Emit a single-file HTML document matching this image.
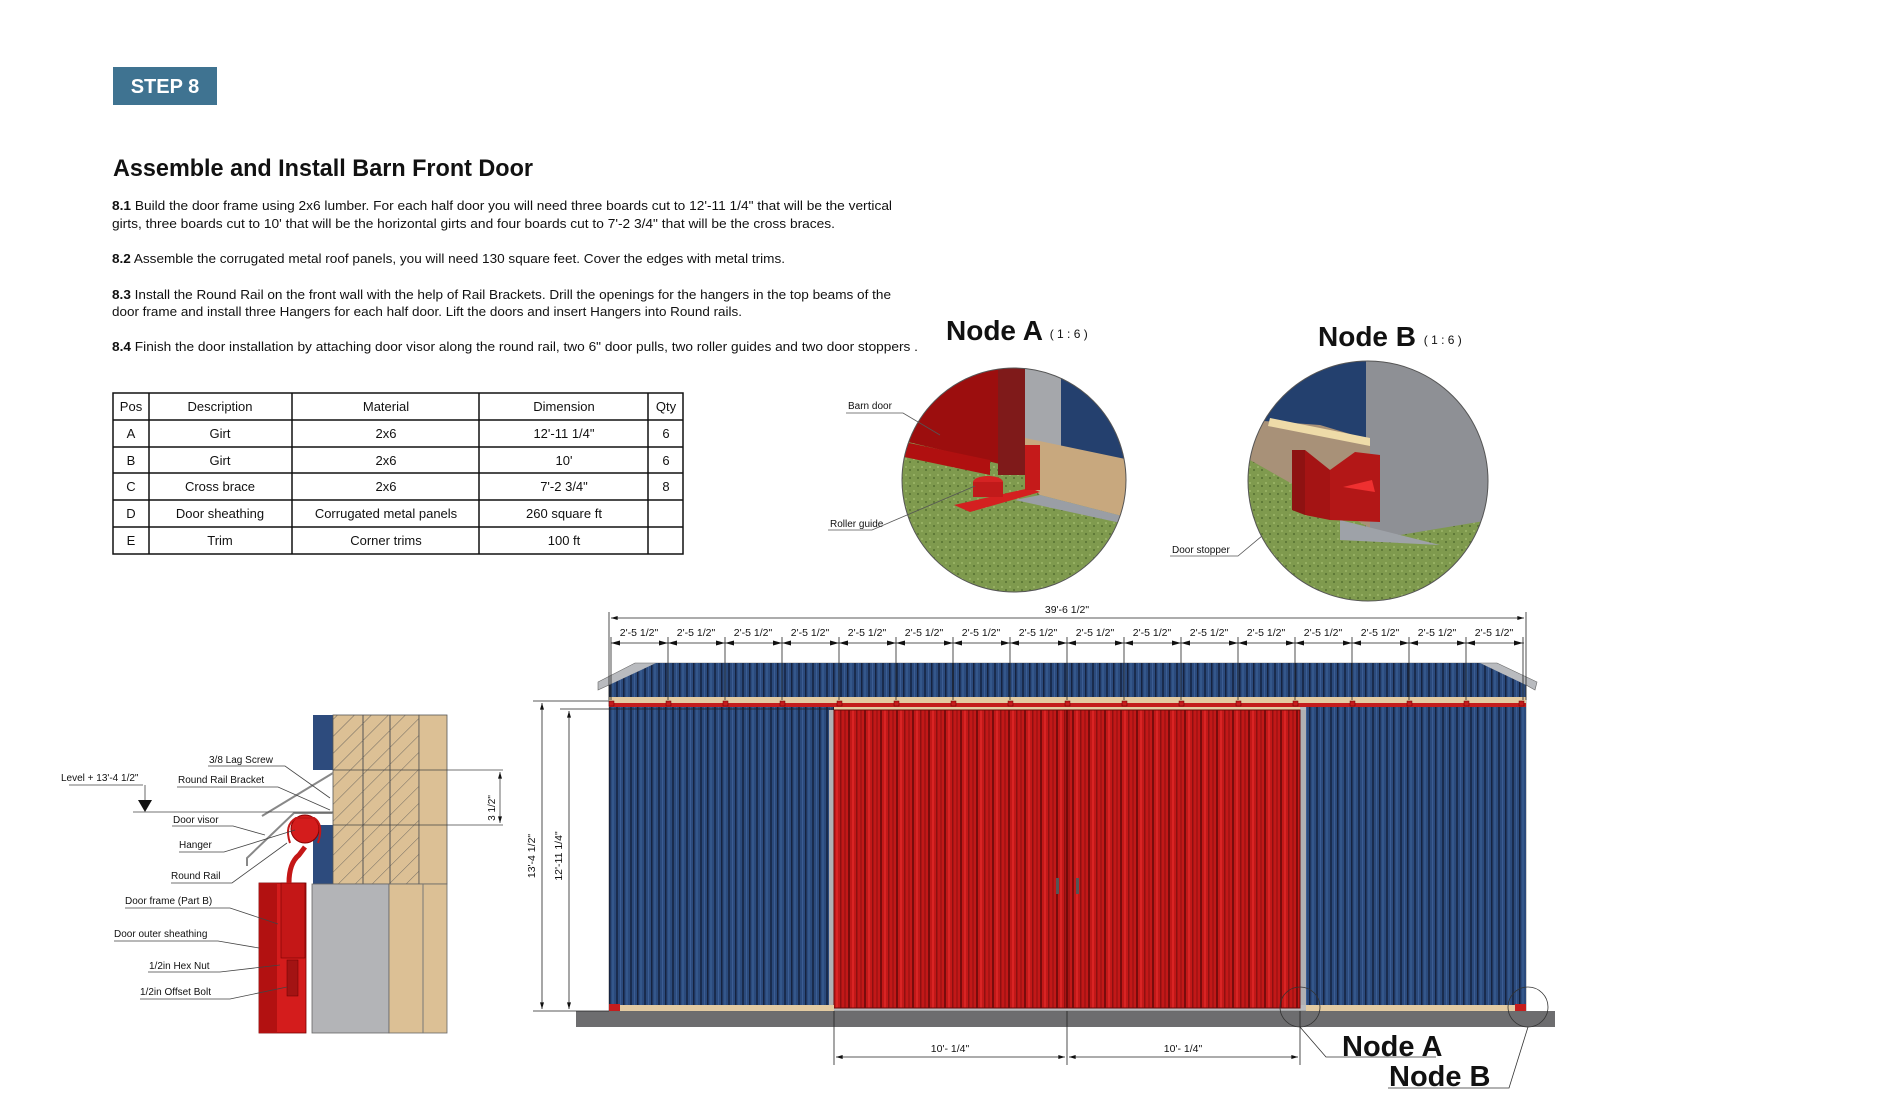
<!DOCTYPE html>
<html><head><meta charset="utf-8"><style>
html,body{margin:0;padding:0;background:#fff;}
svg{display:block;}
.b{font-family:"Liberation Sans",sans-serif;}
</style></head><body>
<svg width="1900" height="1118" viewBox="0 0 1900 1118" xmlns="http://www.w3.org/2000/svg" font-family="Liberation Sans, sans-serif">
<defs>
<pattern id="blue" width="14" height="10" patternUnits="userSpaceOnUse">
<rect width="14" height="10" fill="#2b4a7c"/>
<rect x="0" width="2" height="10" fill="#1a2c4e"/><rect x="4" width="1" height="10" fill="#3b5d94"/>
<rect x="7" width="1.5" height="10" fill="#16233f"/><rect x="10" width="2" height="10" fill="#34578b"/>
</pattern>
<pattern id="red" width="16" height="10" patternUnits="userSpaceOnUse">
<rect width="16" height="10" fill="#c21818"/>
<rect x="0" width="2" height="10" fill="#7a0c0c"/><rect x="4" width="2" height="10" fill="#d92424"/>
<rect x="8" width="1.5" height="10" fill="#8e1010"/><rect x="12" width="2" height="10" fill="#a81414"/>
</pattern>
<pattern id="hatch" width="12" height="12" patternUnits="userSpaceOnUse" patternTransform="rotate(45)">
<rect width="12" height="12" fill="#dcc095"/><line x1="0" y1="0" x2="0" y2="12" stroke="#555" stroke-width="0.8"/>
</pattern>
<pattern id="grass" width="8" height="8" patternUnits="userSpaceOnUse">
<rect width="8" height="8" fill="#7f9a4e"/><rect x="1" y="2" width="2" height="2" fill="#96b063"/><rect x="5" y="5" width="2" height="2" fill="#5f7a38"/>
</pattern>
<clipPath id="ca"><circle cx="1014" cy="480" r="112"/></clipPath>
<clipPath id="cb"><circle cx="1368" cy="481" r="120"/></clipPath>
<marker id="ar" viewBox="0 0 10 6" refX="10" refY="3" markerWidth="9" markerHeight="5" orient="auto-start-reverse"><path d="M0,0L10,3L0,6z" fill="#111"/></marker>
</defs>

<!-- header -->
<rect x="113" y="67" width="104" height="38" fill="#3f7391"/>
<text x="165" y="93" fill="#fff" font-size="20" font-weight="bold" text-anchor="middle">STEP 8</text>
<text x="113" y="176" font-size="24" font-weight="bold" fill="#111" textLength="420" lengthAdjust="spacingAndGlyphs">Assemble and Install Barn Front Door</text>
<g font-size="13" fill="#111">
<text x="112" y="210" textLength="780" lengthAdjust="spacingAndGlyphs"><tspan font-weight="bold">8.1</tspan> Build the door frame using 2x6 lumber. For each half door you will need three boards cut to 12'-11 1/4" that will be the vertical</text>
<text x="112" y="228" textLength="723" lengthAdjust="spacingAndGlyphs">girts, three boards cut to 10' that will be the horizontal girts and four boards cut to 7'-2 3/4" that will be the cross braces.</text>
<text x="112" y="263" textLength="673" lengthAdjust="spacingAndGlyphs"><tspan font-weight="bold">8.2</tspan> Assemble the corrugated metal roof panels, you will need 130 square feet. Cover the edges with metal trims.</text>
<text x="112" y="299" textLength="779" lengthAdjust="spacingAndGlyphs"><tspan font-weight="bold">8.3</tspan> Install the Round Rail on the front wall with the help of Rail Brackets. Drill the openings for the hangers in the top beams of the</text>
<text x="112" y="316" textLength="630" lengthAdjust="spacingAndGlyphs">door frame and install three Hangers for each half door. Lift the doors and insert Hangers into Round rails.</text>
<text x="112" y="351" textLength="806" lengthAdjust="spacingAndGlyphs"><tspan font-weight="bold">8.4</tspan> Finish the door installation by attaching door visor along the round rail, two 6" door pulls, two roller guides and two door stoppers .</text>
</g>

<!-- table -->
<g stroke="#111" stroke-width="1.5" fill="none">
<rect x="113" y="393" width="570" height="161"/>
<line x1="113" y1="420" x2="683" y2="420"/><line x1="113" y1="447" x2="683" y2="447"/>
<line x1="113" y1="473" x2="683" y2="473"/><line x1="113" y1="500" x2="683" y2="500"/>
<line x1="113" y1="527" x2="683" y2="527"/>
<line x1="149" y1="393" x2="149" y2="554"/><line x1="292" y1="393" x2="292" y2="554"/>
<line x1="479" y1="393" x2="479" y2="554"/><line x1="648" y1="393" x2="648" y2="554"/>
</g>
<g font-size="13" fill="#111" text-anchor="middle">
<text x="131" y="411">Pos</text><text x="220" y="411">Description</text><text x="386" y="411">Material</text><text x="564" y="411">Dimension</text><text x="666" y="411">Qty</text>
<text x="131" y="438">A</text><text x="220" y="438">Girt</text><text x="386" y="438">2x6</text><text x="564" y="438">12'-11 1/4"</text><text x="666" y="438">6</text>
<text x="131" y="465">B</text><text x="220" y="465">Girt</text><text x="386" y="465">2x6</text><text x="564" y="465">10'</text><text x="666" y="465">6</text>
<text x="131" y="491">C</text><text x="220" y="491">Cross brace</text><text x="386" y="491">2x6</text><text x="564" y="491">7'-2 3/4"</text><text x="666" y="491">8</text>
<text x="131" y="518">D</text><text x="220" y="518">Door sheathing</text><text x="386" y="518">Corrugated metal panels</text><text x="564" y="518">260 square ft</text>
<text x="131" y="545">E</text><text x="220" y="545">Trim</text><text x="386" y="545">Corner trims</text><text x="564" y="545">100 ft</text>
</g>

<!-- Node A -->
<text x="946" y="340" font-size="28" font-weight="bold" fill="#111">Node A <tspan font-size="12" font-weight="normal" dy="-2">( 1 : 6 )</tspan></text>
<g clip-path="url(#ca)">
<rect x="900" y="360" width="240" height="240" fill="url(#grass)"/>
<polygon points="1025,368 1130,368 1130,470 1025,440" fill="#24406e"/>
<rect x="1025" y="360" width="36" height="86" fill="#a5a7ab"/>
<polygon points="1025,438 1130,460 1130,518 1040,495 1025,480" fill="#c8a87e"/>
<polygon points="1040,495 1130,518 1130,525 1015,500" fill="#9a9ea5"/>
<polygon points="895,360 1025,360 1025,470 900,440" fill="#9c0e0e"/>
<rect x="998" y="360" width="27" height="115" fill="#7f1a1a"/>
<polygon points="895,440 990,460 990,475 895,455" fill="#b01010"/>
<polygon points="954,505 1030,488 1040,492 970,512" fill="#d42020"/>
<rect x="1025" y="445" width="15" height="45" fill="#c51a1a"/>
<ellipse cx="988" cy="482" rx="15" ry="6" fill="#d52323"/><rect x="973" y="482" width="30" height="15" fill="#c11a1a"/>
</g>
<circle cx="1014" cy="480" r="112" fill="none" stroke="#555" stroke-width="1"/>
<g font-size="10" fill="#111"><text x="848" y="409">Barn door</text><text x="830" y="527">Roller guide</text><text x="1172" y="553">Door stopper</text></g>
<g stroke="#555" stroke-width="0.8" fill="none">
<polyline points="846,413 903,413 940,435"/><polyline points="828,530 872,530 975,486"/><polyline points="1170,556 1238,556 1305,500"/>
</g>

<!-- Node B -->
<text x="1318" y="346" font-size="28" font-weight="bold" fill="#111">Node B <tspan font-size="12" font-weight="normal" dy="-2">( 1 : 6 )</tspan></text>
<g clip-path="url(#cb)">
<rect x="1240" y="360" width="260" height="250" fill="url(#grass)"/>
<rect x="1240" y="360" width="130" height="85" fill="#23406e"/>
<polygon points="1366,360 1490,360 1490,520 1400,535 1366,530" fill="#8e9095"/>
<polygon points="1250,420 1320,425 1370,440 1370,528 1250,460" fill="#a89178"/>
<polygon points="1270,418 1370,438 1370,446 1268,426" fill="#eedba8"/>
<polygon points="1340,520 1400,535 1440,545 1340,540" fill="#9ea2a8"/>
<polygon points="1292,450 1305,450 1305,515 1292,510" fill="#8e1212"/>
<polygon points="1305,450 1330,470 1330,520 1305,515" fill="#a41414"/>
<polygon points="1330,470 1355,452 1380,455 1380,522 1330,520" fill="#b31717"/>
<polygon points="1343,487 1372,480 1375,492" fill="#ef3030"/>
</g>
<circle cx="1368" cy="481" r="120" fill="none" stroke="#555" stroke-width="1"/>

<!-- Elevation -->
<rect x="576" y="1011" width="979" height="16" fill="#6d6d6f"/>
<polygon points="598,682 635,663 1497,663 1537,682 1535,690 1526,685 1526,1011 609,1011 609,685 598,690" fill="#b9bbbf" stroke="#666" stroke-width="0.6"/>
<polygon points="609,685 656,663 1480,663 1526,685 1526,697 609,697" fill="url(#blue)"/>
<rect x="609" y="697" width="917" height="6" fill="#e3cba2"/>
<rect x="609" y="703" width="917" height="4" fill="#c41d1d"/>
<rect x="834" y="707" width="466" height="3" fill="#e3cba2"/>
<rect x="609" y="707" width="225" height="298" fill="url(#blue)"/>
<rect x="1306" y="707" width="220" height="298" fill="url(#blue)"/>
<rect x="829" y="710" width="5" height="295" fill="#b0b0b3"/>
<rect x="1300" y="710" width="6" height="295" fill="#b0b0b3"/>
<rect x="834" y="710" width="466" height="298" fill="url(#red)" stroke="#6a0808" stroke-width="1"/>
<line x1="1067" y1="710" x2="1067" y2="1008" stroke="#5a0505" stroke-width="1.5"/>
<rect x="1056" y="878" width="3" height="16" fill="#555"/><rect x="1076" y="878" width="3" height="16" fill="#555"/>
<rect x="609" y="1005" width="225" height="6" fill="#e3cba2"/><rect x="1306" y="1005" width="220" height="6" fill="#e3cba2"/>
<rect x="609" y="1004" width="11" height="7" fill="#c41d1d"/><rect x="1515" y="1004" width="11" height="7" fill="#c41d1d"/>
<g fill="#c41d1d" stroke="#600" stroke-width="0.5">
<rect x="609" y="701" width="5" height="5"/><rect x="666" y="701" width="5" height="5"/><rect x="723" y="701" width="5" height="5"/><rect x="780" y="701" width="5" height="5"/><rect x="837" y="701" width="5" height="5"/><rect x="894" y="701" width="5" height="5"/><rect x="951" y="701" width="5" height="5"/><rect x="1008" y="701" width="5" height="5"/><rect x="1065" y="701" width="5" height="5"/><rect x="1122" y="701" width="5" height="5"/><rect x="1179" y="701" width="5" height="5"/><rect x="1236" y="701" width="5" height="5"/><rect x="1293" y="701" width="5" height="5"/><rect x="1350" y="701" width="5" height="5"/><rect x="1407" y="701" width="5" height="5"/><rect x="1464" y="701" width="5" height="5"/><rect x="1519" y="701" width="5" height="5"/>
</g>
<circle cx="1300" cy="1007" r="20" fill="none" stroke="#333" stroke-width="0.8"/>
<circle cx="1528" cy="1007" r="20" fill="none" stroke="#333" stroke-width="0.8"/>
<polyline points="1300,1027 1326,1057 1436,1057" fill="none" stroke="#333" stroke-width="0.8"/>
<polyline points="1528,1027 1509,1088 1388,1088" fill="none" stroke="#333" stroke-width="0.8"/>
<text x="1342" y="1056" font-size="29" font-weight="bold" fill="#111">Node A</text>
<text x="1389" y="1086" font-size="29" font-weight="bold" fill="#111">Node B</text>

<!-- dims -->
<g stroke="#222" stroke-width="0.8" fill="none">
<line x1="609" y1="612" x2="609" y2="700"/><line x1="1526" y1="612" x2="1526" y2="700"/>
<line x1="611" y1="618" x2="1524" y2="618" marker-start="url(#ar)" marker-end="url(#ar)"/>
<line x1="611" y1="643" x2="1524" y2="643"/>
<line x1="834" y1="1011" x2="834" y2="1065"/><line x1="1067" y1="1011" x2="1067" y2="1065"/><line x1="1300" y1="1011" x2="1300" y2="1065"/>
<line x1="836" y1="1057" x2="1065" y2="1057" marker-start="url(#ar)" marker-end="url(#ar)"/>
<line x1="1069" y1="1057" x2="1298" y2="1057" marker-start="url(#ar)" marker-end="url(#ar)"/>
<line x1="533" y1="701" x2="609" y2="701"/><line x1="560" y1="709" x2="834" y2="709"/><line x1="533" y1="1011" x2="609" y2="1011"/>
<line x1="542" y1="703" x2="542" y2="1009" marker-start="url(#ar)" marker-end="url(#ar)"/>
<line x1="569" y1="711" x2="569" y2="1009" marker-start="url(#ar)" marker-end="url(#ar)"/>
</g>
<g id="ticks" stroke="#222" stroke-width="0.8">
<line x1="611" y1="637" x2="611" y2="700"/><line x1="668" y1="637" x2="668" y2="700"/><line x1="725" y1="637" x2="725" y2="700"/><line x1="782" y1="637" x2="782" y2="700"/><line x1="839" y1="637" x2="839" y2="700"/><line x1="896" y1="637" x2="896" y2="700"/><line x1="953" y1="637" x2="953" y2="700"/><line x1="1010" y1="637" x2="1010" y2="700"/><line x1="1067" y1="637" x2="1067" y2="700"/><line x1="1124" y1="637" x2="1124" y2="700"/><line x1="1181" y1="637" x2="1181" y2="700"/><line x1="1238" y1="637" x2="1238" y2="700"/><line x1="1295" y1="637" x2="1295" y2="700"/><line x1="1352" y1="637" x2="1352" y2="700"/><line x1="1409" y1="637" x2="1409" y2="700"/><line x1="1466" y1="637" x2="1466" y2="700"/><line x1="1523" y1="637" x2="1523" y2="700"/>
</g>
<g fill="#111">
<path d="M611,643l9,-2.5v5zM668,643l-9,-2.5v5zM668,643l9,-2.5v5zM725,643l-9,-2.5v5zM725,643l9,-2.5v5zM782,643l-9,-2.5v5zM782,643l9,-2.5v5zM839,643l-9,-2.5v5zM839,643l9,-2.5v5zM896,643l-9,-2.5v5zM896,643l9,-2.5v5zM953,643l-9,-2.5v5zM953,643l9,-2.5v5zM1010,643l-9,-2.5v5zM1010,643l9,-2.5v5zM1067,643l-9,-2.5v5zM1067,643l9,-2.5v5zM1124,643l-9,-2.5v5zM1124,643l9,-2.5v5zM1181,643l-9,-2.5v5zM1181,643l9,-2.5v5zM1238,643l-9,-2.5v5zM1238,643l9,-2.5v5zM1295,643l-9,-2.5v5zM1295,643l9,-2.5v5zM1352,643l-9,-2.5v5zM1352,643l9,-2.5v5zM1409,643l-9,-2.5v5zM1409,643l9,-2.5v5zM1466,643l-9,-2.5v5zM1466,643l9,-2.5v5zM1523,643l-9,-2.5v5z"/>
</g>
<g font-size="10.5" fill="#111" text-anchor="middle">
<text x="1067" y="613">39'-6 1/2"</text>
<text x="639" y="636">2'-5 1/2"</text><text x="696" y="636">2'-5 1/2"</text><text x="753" y="636">2'-5 1/2"</text><text x="810" y="636">2'-5 1/2"</text><text x="867" y="636">2'-5 1/2"</text><text x="924" y="636">2'-5 1/2"</text><text x="981" y="636">2'-5 1/2"</text><text x="1038" y="636">2'-5 1/2"</text><text x="1095" y="636">2'-5 1/2"</text><text x="1152" y="636">2'-5 1/2"</text><text x="1209" y="636">2'-5 1/2"</text><text x="1266" y="636">2'-5 1/2"</text><text x="1323" y="636">2'-5 1/2"</text><text x="1380" y="636">2'-5 1/2"</text><text x="1437" y="636">2'-5 1/2"</text><text x="1494" y="636">2'-5 1/2"</text>
<text x="950" y="1052">10'- 1/4"</text><text x="1183" y="1052">10'- 1/4"</text>
<text transform="translate(535,856) rotate(-90)">13'-4 1/2"</text>
<text transform="translate(562,856) rotate(-90)">12'-11 1/4"</text>
</g>

<!-- left detail -->
<rect x="313" y="715" width="20" height="55" fill="#2d4b7d"/>
<rect x="313" y="825" width="20" height="59" fill="#2d4b7d"/>
<rect x="333" y="715" width="86" height="169" fill="url(#hatch)" stroke="#555" stroke-width="0.8"/>
<rect x="419" y="715" width="28" height="169" fill="#dcc095" stroke="#555" stroke-width="0.8"/>
<line x1="363" y1="715" x2="363" y2="884" stroke="#555"/><line x1="390" y1="715" x2="390" y2="884" stroke="#555"/>
<rect x="312" y="884" width="77" height="149" fill="#b3b4b7" stroke="#666" stroke-width="0.8"/>
<rect x="389" y="884" width="58" height="149" fill="#dcc095" stroke="#666" stroke-width="0.8"/>
<line x1="423" y1="884" x2="423" y2="1033" stroke="#777"/>
<rect x="259" y="883" width="47" height="150" fill="#d41c1c" stroke="#700" stroke-width="0.8"/>
<rect x="259" y="883" width="18" height="150" fill="#b21111"/>
<rect x="281" y="883" width="24" height="75" fill="#c41717" stroke="#700" stroke-width="0.6"/>
<rect x="287" y="960" width="11" height="36" fill="#a31313" stroke="#600" stroke-width="0.5"/>
<path d="M289,883 q0,-20 10,-28 l6,-8" fill="none" stroke="#c41717" stroke-width="5"/>
<circle cx="305" cy="829" r="14" fill="#d41c1c" stroke="#800" stroke-width="1"/>
<path d="M290,843 q-6,-18 6,-25 h18 q10,6 4,25" fill="none" stroke="#c41717" stroke-width="2"/>
<path d="M247,866 v-8 l47,-45 h39" fill="none" stroke="#888" stroke-width="2"/>
<line x1="262" y1="816" x2="333" y2="773" stroke="#888" stroke-width="2"/>
<g stroke="#444" stroke-width="0.8" fill="none">
<line x1="133" y1="812" x2="333" y2="812"/>
<line x1="145" y1="785" x2="145" y2="800"/>
<line x1="333" y1="770" x2="503" y2="770"/><line x1="333" y1="825" x2="503" y2="825"/>
<line x1="500" y1="772" x2="500" y2="823" marker-start="url(#ar)" marker-end="url(#ar)"/>
<polyline points="208,766 285,766 330,798"/>
<polyline points="177,787 278,787 330,810"/>
<polyline points="69,785 143,785"/>
<polyline points="172,826 233,826 265,835"/>
<polyline points="179,852 224,852 295,830"/>
<polyline points="171,883 232,883 287,843"/>
<polyline points="125,908 230,908 278,924"/>
<polyline points="114,941 218,941 259,948"/>
<polyline points="148,972 220,972 280,965"/>
<polyline points="140,999 230,999 287,987"/>
</g>
<path d="M138,800 h14 l-7,12z" fill="#111"/>
<g font-size="10" fill="#111">
<text x="209" y="763">3/8 Lag Screw</text>
<text x="178" y="783">Round Rail Bracket</text>
<text x="61" y="781">Level + 13'-4 1/2"</text>
<text x="173" y="823">Door visor</text>
<text x="179" y="848">Hanger</text>
<text x="171" y="879">Round Rail</text>
<text x="125" y="904">Door frame (Part B)</text>
<text x="114" y="937">Door outer sheathing</text>
<text x="149" y="969">1/2in Hex Nut</text>
<text x="140" y="995">1/2in Offset Bolt</text>
<text transform="translate(495,808) rotate(-90)" text-anchor="middle">3 1/2"</text>
</g>
</svg>
</body></html>
